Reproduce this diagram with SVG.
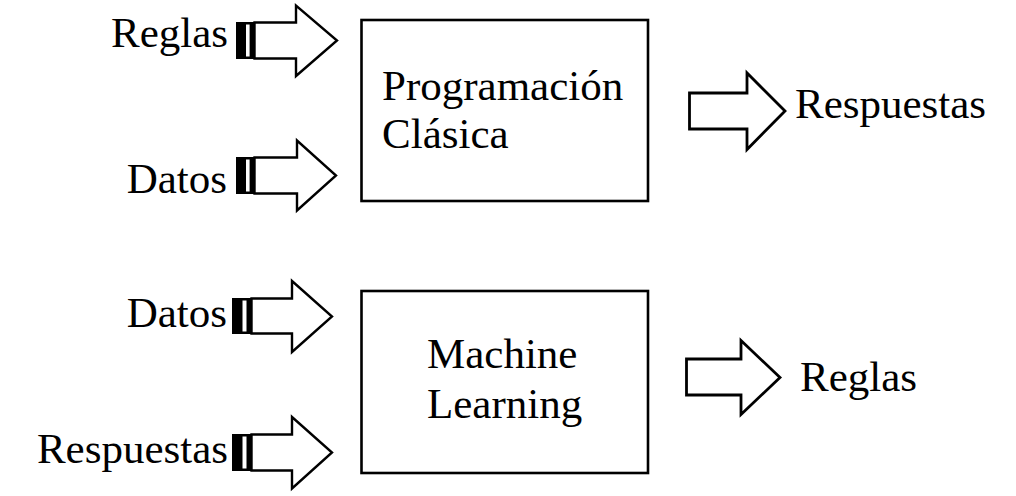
<svg xmlns="http://www.w3.org/2000/svg" width="1016" height="496" viewBox="0 0 1016 496">
<style>
text{font-family:"Liberation Serif","Times New Roman",serif;font-size:43px;fill:#000}
.lbl{text-anchor:end}
.box{fill:#fff;stroke:#000;stroke-width:2.6}
.arr{fill:#fff;stroke:#000;stroke-width:2.4;stroke-linejoin:miter;stroke-miterlimit:10}
.tail{fill:#000}
.stripe{fill:#fff}
</style>
<rect width="1016" height="496" fill="#fff"/>
<g id="node-programacion">
<rect class="box" x="361.5" y="20" width="286.5" height="181"/>
<text x="382" y="100">Programación</text>
<text x="382" y="148">Clásica</text>
</g>
<g id="node-ml">
<rect class="box" x="361.5" y="291" width="286.5" height="182"/>
<text x="427" y="368">Machine</text>
<text x="427" y="418">Learning</text>
</g>
<g id="label-reglas-in"><text class="lbl" x="228" y="47">Reglas</text></g>
<g id="label-datos-in1"><text class="lbl" x="227" y="193">Datos</text></g>
<g id="label-datos-in2"><text class="lbl" x="227" y="327">Datos</text></g>
<g id="label-respuestas-in"><text class="lbl" x="228" y="463">Respuestas</text></g>
<g id="label-respuestas-out"><text x="795" y="118">Respuestas</text></g>
<g id="label-reglas-out"><text x="800" y="391">Reglas</text></g>
<g id="connectors">
<!-- Reglas in -->
<rect class="tail" x="236" y="22" width="19" height="37"/>
<rect class="stripe" x="246" y="24.5" width="3.6" height="32"/>
<path class="arr" d="M254.5 22.5H296V5.5L337 40.5L296 76V58.5H254.5Z"/>
<!-- Datos in 1 -->
<rect class="tail" x="236" y="157" width="19" height="37"/>
<rect class="stripe" x="246" y="159.5" width="3.6" height="32"/>
<path class="arr" d="M254.5 157.5H297V140.5L336 175.5L297 210.5V193.5H254.5Z"/>
<!-- Datos in 2 -->
<rect class="tail" x="232" y="298" width="20" height="36"/>
<rect class="stripe" x="242.5" y="300.5" width="4" height="31"/>
<path class="arr" d="M251.5 298.5H292V281L332 316.5L292 352V333.5H251.5Z"/>
<!-- Respuestas in -->
<rect class="tail" x="232" y="434" width="20" height="37"/>
<rect class="stripe" x="242.5" y="436.5" width="4" height="32"/>
<path class="arr" d="M251.5 434.5H292V417L332 452.5L292 488.5V470.5H251.5Z"/>
<!-- Respuestas out -->
<path class="arr" style="stroke-width:2.8" d="M689.5 93H747V73L785 111L747 149.5V129H689.5Z"/>
<!-- Reglas out -->
<path class="arr" style="stroke-width:2.8" d="M686.5 359H741V340.5L780 377.5L741 414.5V395H686.5Z"/>
</g>
</svg>
